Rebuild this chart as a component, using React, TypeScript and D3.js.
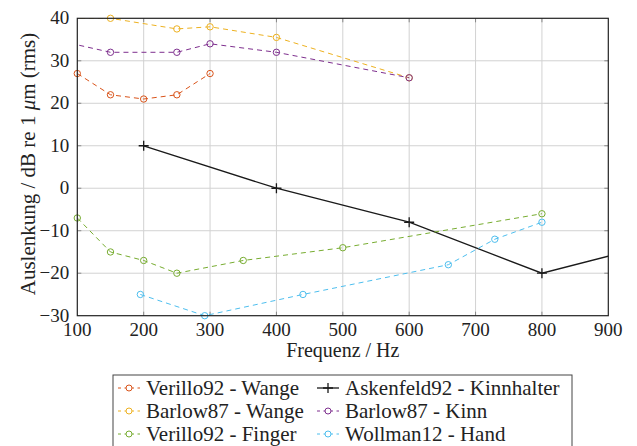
import { useEffect, useRef } from 'react'
import * as d3 from 'd3'

// data
const verilloWangeX = [100, 150, 200, 250, 300]
const verilloWangeY = [27, 22, 21, 22, 27]
const askenfeldX = [200, 400, 600, 800, 1000]
const askenfeldY = [10, 0, -8, -20, -12]
const barlowWangeX = [50, 150, 250, 300, 400, 600]
const barlowWangeY = [40, 40, 37.5, 38, 35.5, 26]
const barlowKinnX = [50, 150, 250, 300, 400, 600]
const barlowKinnY = [35.5, 32, 32, 34, 32, 26]
const verilloFingerX = [100, 150, 200, 250, 350, 500, 800]
const verilloFingerY = [-7, -15, -17, -20, -17, -14, -6]
const wollmanX = [195, 292, 440, 659, 729, 800]
const wollmanY = [-25, -30, -25, -18, -12, -8]

const xTicks = [100, 200, 300, 400, 500, 600, 700, 800, 900]
const yTicks = [-30, -20, -10, 0, 10, 20, 30, 40]

const series = [
  { name: 'Verillo92 - Wange', x: verilloWangeX, y: verilloWangeY, color: '#D95319', mark: 'o' },
  { name: 'Askenfeld92 - Kinnhalter', x: askenfeldX, y: askenfeldY, color: '#1a1a1a', mark: '+' },
  { name: 'Barlow87 - Wange', x: barlowWangeX, y: barlowWangeY, color: '#EDB120', mark: 'o' },
  { name: 'Barlow87 - Kinn', x: barlowKinnX, y: barlowKinnY, color: '#7E2F8E', mark: 'o' },
  { name: 'Verillo92 - Finger', x: verilloFingerX, y: verilloFingerY, color: '#77AC30', mark: 'o' },
  { name: 'Wollman12 - Hand', x: wollmanX, y: wollmanY, color: '#4DBEEE', mark: 'o' },
]

const font = 'Liberation Serif, DejaVu Serif, serif'
const minus = (v: number) => (v < 0 ? '\u2212' + Math.abs(v) : String(v))

export default function App() {
  const svgRef = useRef<SVGSVGElement>(null)

  useEffect(() => {
    if (!svgRef.current) return
    const svg = d3.select(svgRef.current)
    svg.selectAll('*').remove()

    const left = 77.3, right = 608.3, top = 18.3, bottom = 315.7
    const x = d3.scaleLinear().domain([100, 900]).range([left, right])
    const y = d3.scaleLinear().domain([-30, 40]).range([bottom, top])

    svg.append('defs').append('clipPath').attr('id', 'plotclip')
      .append('rect').attr('x', left).attr('y', top).attr('width', right - left).attr('height', bottom - top)

    // grid
    const grid = svg.append('g')
    xTicks.slice(1, -1).forEach(t => {
      grid.append('line').attr('x1', x(t)).attr('x2', x(t)).attr('y1', top).attr('y2', bottom)
        .attr('stroke', '#d2d2d2').attr('stroke-width', 1)
    })
    yTicks.slice(1, -1).forEach(t => {
      grid.append('line').attr('x1', left).attr('x2', right).attr('y1', y(t)).attr('y2', y(t))
        .attr('stroke', '#d2d2d2').attr('stroke-width', 1)
    })
    // inner ticks
    xTicks.slice(1, -1).forEach(t => {
      grid.append('line').attr('x1', x(t)).attr('x2', x(t)).attr('y1', top).attr('y2', top + 4).attr('stroke', '#888')
      grid.append('line').attr('x1', x(t)).attr('x2', x(t)).attr('y1', bottom).attr('y2', bottom - 4).attr('stroke', '#888')
    })
    yTicks.slice(1, -1).forEach(t => {
      grid.append('line').attr('x1', left).attr('x2', left + 4).attr('y1', y(t)).attr('y2', y(t)).attr('stroke', '#888')
      grid.append('line').attr('x1', right).attr('x2', right - 4).attr('y1', y(t)).attr('y2', y(t)).attr('stroke', '#888')
    })

    // series
    const line = d3.line<[number, number]>().x(d => x(d[0])).y(d => y(d[1]))
    series.forEach(s => {
      const pts: [number, number][] = s.x.map((v, i) => [v, s.y[i]])
      svg.append('path').datum(pts).attr('d', line).attr('clip-path', 'url(#plotclip)')
        .attr('fill', 'none').attr('stroke', s.color).attr('stroke-width', s.mark === '+' ? 1.3 : 1)
        .attr('stroke-dasharray', s.mark === '+' ? null : '5,4')
      const inside = pts.filter(d => d[0] >= 100 && d[0] <= 900 && d[1] >= -30 && d[1] <= 40)
      inside.forEach(d => {
        if (s.mark === '+') {
          svg.append('path').attr('d', `M${x(d[0]) - 5},${y(d[1])}h10M${x(d[0])},${y(d[1]) - 5}v10`)
            .attr('stroke', s.color).attr('stroke-width', 1.3)
        } else {
          svg.append('circle').attr('cx', x(d[0])).attr('cy', y(d[1])).attr('r', 3.2)
            .attr('fill', 'none').attr('stroke', s.color).attr('stroke-width', 1)
        }
      })
    })

    // axis box
    svg.append('rect').attr('x', left).attr('y', top).attr('width', right - left).attr('height', bottom - top)
      .attr('fill', 'none').attr('stroke', '#222').attr('stroke-width', 1.2)

    // tick labels
    xTicks.forEach(t => {
      svg.append('text').attr('x', x(t)).attr('y', bottom + 20).attr('text-anchor', 'middle')
        .attr('font-family', font).attr('font-size', 19).attr('fill', '#222').text(minus(t))
    })
    yTicks.forEach(t => {
      svg.append('text').attr('x', left - 8).attr('y', y(t) + 6).attr('text-anchor', 'end')
        .attr('font-family', font).attr('font-size', 19).attr('fill', '#222').text(minus(t))
    })

    // axis labels
    svg.append('text').attr('x', (left + right) / 2).attr('y', 357).attr('text-anchor', 'middle')
      .attr('font-family', font).attr('font-size', 20).attr('fill', '#222').text('Frequenz / Hz')
    const yl = svg.append('text').attr('transform', `translate(35,${(top + bottom) / 2 - 3}) rotate(-90)`)
      .attr('text-anchor', 'middle').attr('font-family', font).attr('font-size', 21).attr('fill', '#222')
    yl.append('tspan').text('Auslenkung / dB re 1 ')
    yl.append('tspan').attr('font-style', 'italic').text('\u03bc')
    yl.append('tspan').text('m (rms)')

    // legend
    const lg = svg.append('g')
    lg.append('rect').attr('x', 113).attr('y', 375).attr('width', 459).attr('height', 90)
      .attr('fill', 'white').attr('stroke', '#444').attr('stroke-width', 1)
    series.forEach((s, i) => {
      const col = i % 2, row = Math.floor(i / 2)
      const ix = col === 0 ? 118 : 317
      const cy = 388 + row * 23
      if (s.mark === '+') {
        lg.append('line').attr('x1', ix).attr('x2', ix + 22).attr('y1', cy).attr('y2', cy)
          .attr('stroke', s.color).attr('stroke-width', 1.3)
        lg.append('path').attr('d', `M${ix + 6},${cy}h10M${ix + 11},${cy - 5}v10`).attr('stroke', s.color).attr('stroke-width', 1.3)
      } else {
        lg.append('line').attr('x1', ix).attr('x2', ix + 22).attr('y1', cy).attr('y2', cy)
          .attr('stroke', s.color).attr('stroke-width', 1).attr('stroke-dasharray', '3,3.5')
        lg.append('circle').attr('cx', ix + 11).attr('cy', cy).attr('r', 3).attr('fill', 'white')
          .attr('stroke', s.color).attr('stroke-width', 1)
      }
      lg.append('text').attr('x', col === 0 ? 146 : 345).attr('y', cy + 7)
        .attr('font-family', font).attr('font-size', 21).attr('fill', '#222').text(s.name)
    })
  }, [])

  return (
    <svg ref={svgRef} width={637} height={446}
      style={{ position: 'absolute', left: 0, top: 0, background: 'white' }} />
  )
}
